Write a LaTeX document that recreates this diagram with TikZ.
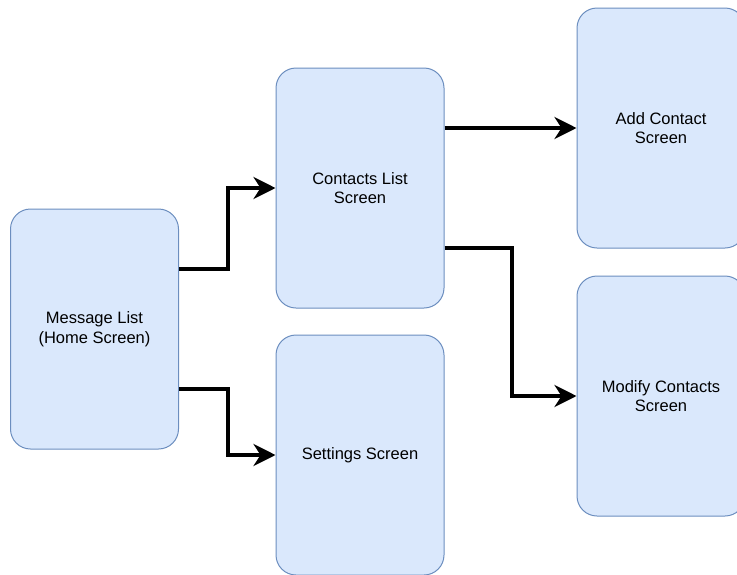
\documentclass[tikz,border=0pt]{standalone}
\usepackage{fontspec}
\setmainfont{Liberation Sans}
\usepackage{tikz}
\usetikzlibrary{arrows.meta}

\definecolor{boxfill}{HTML}{DAE8FC}
\definecolor{boxline}{HTML}{6C8EBF}

\begin{document}
\begin{tikzpicture}[x=1pt, y=-1pt,
    screen/.style={draw=boxline, fill=boxfill, line width=1pt, rounded corners=20pt,
        minimum width=168pt, minimum height=240pt, align=center, inner sep=2pt,
        font=\fontsize{16.5}{19.5}\selectfont},
    link/.style={line width=4pt, -{Stealth[length=22pt, width=22pt, inset=7pt]}}]
    % Bildausschnitt
    \useasboundingbox (0,0) rectangle (737,574);
    \clip (0,0) rectangle (737,574);
    % Bildschirme
    \node[screen] (msg) at (94.5,329) {Message List\\(Home Screen)};
    \node[screen] (contacts) at (360,188) {Contacts List\\Screen};
    \node[screen] (settings) at (360,455) {Settings Screen};
    \node[screen] (add) at (661,128) {Add Contact\\Screen};
    \node[screen] (modify) at (661,396) {Modify Contacts\\Screen};
    % Verbindungen
    \draw[link] ([yshift=60pt]msg.east) -- ++(49,0) |- (contacts.west);
    \draw[link] ([yshift=-60pt]msg.east) -- ++(49,0) |- (settings.west);
    \draw[link] ([yshift=60pt]contacts.east) -- (add.west);
    \draw[link] ([yshift=-60pt]contacts.east) -- ++(67,0) |- (modify.west);
\end{tikzpicture}
\end{document}
